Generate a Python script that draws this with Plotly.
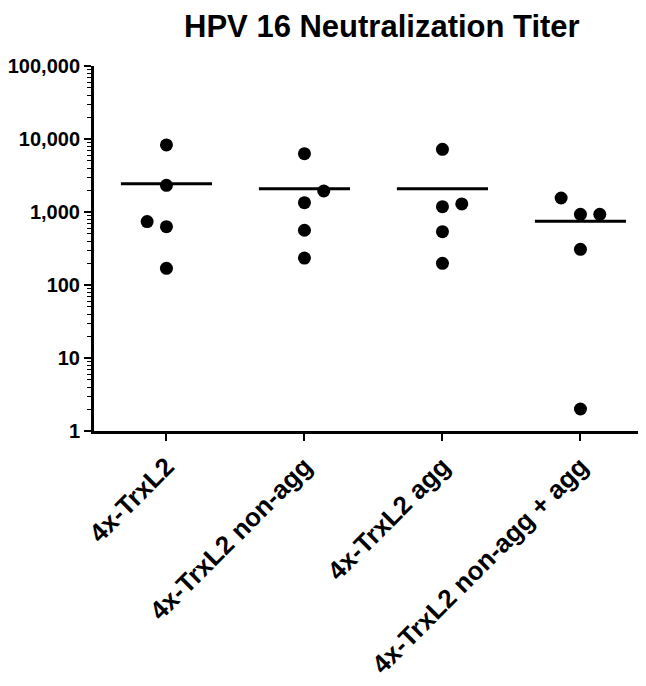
import plotly.graph_objects as go

categories = ["4x-TrxL2", "4x-TrxL2 non-agg", "4x-TrxL2 agg", "4x-TrxL2 non-agg + agg"]
trxl2 = [8300, 2320, 740, 630, 169]
non_agg = [6300, 1940, 1340, 562, 234]
agg = [7230, 1290, 1183, 537, 198]
non_agg_plus_agg = [1555, 930, 930, 308, 2]
y_tickvals = [1, 10, 100, 1000, 10000, 100000]
y_ticktext = ["1", "10", "100", "1,000", "10,000", "100,000"]

groups = [trxl2, non_agg, agg, non_agg_plus_agg]
# horizontal scatter offsets (in category units) for each point within a group
jitter = [
    [0, 0, -0.14, 0, 0],
    [0, 0.14, 0, 0, 0],
    [0, 0.14, 0, 0, 0],
    [-0.14, 0, 0.14, 0, 0],
]

font_family = "Liberation Sans, Arial, sans-serif"
fig = go.Figure()
for i, vals in enumerate(groups):
    xs = [i + j for j in jitter[i]]
    fig.add_trace(go.Scatter(x=xs, y=vals, mode="markers",
                             marker=dict(color="black", size=13),
                             showlegend=False, hoverinfo="y"))
    mean = sum(vals) / len(vals)
    fig.add_trace(go.Scatter(x=[i - 0.33, i + 0.33], y=[mean, mean], mode="lines",
                             line=dict(color="black", width=3),
                             showlegend=False, hoverinfo="skip"))

fig.update_layout(
    width=638, height=678,
    margin=dict(l=82, r=0, t=58, b=255),
    plot_bgcolor="white", paper_bgcolor="white",
    title=dict(text="HPV 16 Neutralization Titer", x=0.586, xanchor="center",
               y=0.9725, yanchor="middle",
               font=dict(family=font_family, size=31, color="black", weight="bold")),
    xaxis=dict(range=[-0.525, 3.475], tickvals=[0, 1, 2, 3], ticktext=categories,
               tickangle=-45, showgrid=False, zeroline=False,
               showline=True, linecolor="black", linewidth=3,
               ticks="outside", ticklen=7, tickwidth=2, tickcolor="black",
               tickfont=dict(family=font_family, size=26, color="black", weight="bold")),
    yaxis=dict(type="log", range=[0, 5], tickvals=y_tickvals, ticktext=y_ticktext,
               showgrid=False, zeroline=False,
               showline=True, linecolor="black", linewidth=3,
               ticks="outside", ticklen=7, tickwidth=2, tickcolor="black",
               minor=dict(ticks="outside", ticklen=4, tickwidth=1, tickcolor="black", dtick="D1"),
               tickfont=dict(family=font_family, size=20, color="black", weight="bold")),
)
fig.write_html("out.html")
